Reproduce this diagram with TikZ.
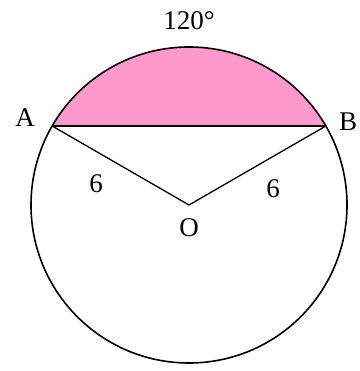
\documentclass[tikz,border=0pt]{standalone}
\usepackage{fontspec}
\setmainfont{Liberation Serif}
\usepackage{tikz}
\usepackage{xcolor}
\usetikzlibrary{calc}
\definecolor{segpink}{RGB}{255,153,204}

\begin{document}
\begin{tikzpicture}[x=1pt, y=1pt, thick, line join=round]
    \useasboundingbox (0,0) rectangle (359,371);
    \tikzset{lbl/.style={font=\fontsize{27}{30}\selectfont, inner sep=0pt}}
    % centre and chord end points
    \coordinate (O) at (189,166);
    \coordinate (A) at ($(O)+(150:158)$);
    \coordinate (B) at ($(O)+(30:158)$);
    % shaded segment
    \fill[segpink] (A) arc[start angle=150, end angle=30, radius=158] -- cycle;
    % circle, chord and radii
    \draw[line width=1.6pt] (O) circle (158);
    \draw[line width=1.3pt] (A) -- (B);
    \draw[line width=1.3pt] (A) -- (O) -- (B);
    % labels
    \node[lbl] (arclbl) at (189,350) {120°};
    \node[lbl] (Albl) at (25,253) {A};
    \node[lbl] (Blbl) at (348,249) {B};
    \node[lbl] (Olbl) at (189,143) {O};
    \node[lbl] (rA) at (96,187) {6};
    \node[lbl] (rB) at (273,182) {6};
\end{tikzpicture}
\end{document}
